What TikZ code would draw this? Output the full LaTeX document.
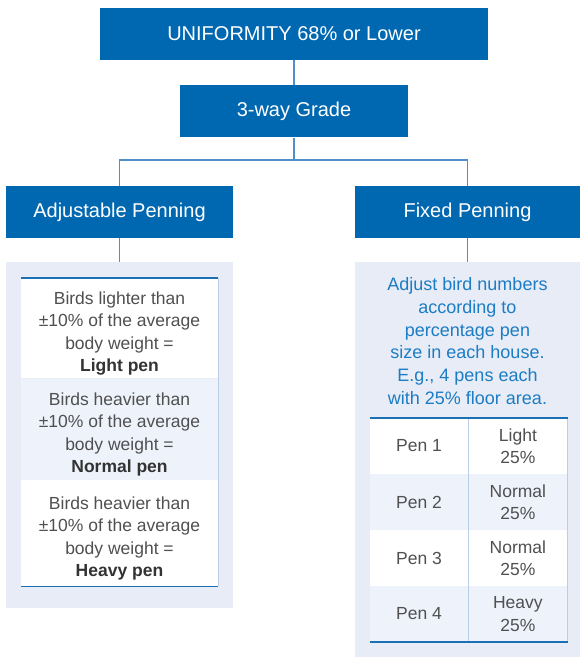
\documentclass[tikz,border=0pt]{standalone}
\usepackage{fontspec}
\setmainfont{Liberation Sans}
\usetikzlibrary{positioning}

\definecolor{boxblue}{HTML}{0067B1}
\definecolor{connblue}{HTML}{4F8FCB}
\definecolor{panelbg}{HTML}{E7ECF6}
\definecolor{rowalt}{HTML}{EEF2FA}
\definecolor{textgray}{HTML}{505050}
\definecolor{textdark}{HTML}{333333}
\definecolor{noteblue}{HTML}{1C7CC4}
\definecolor{ruleblue}{HTML}{1A6FB5}
\definecolor{thinblue}{HTML}{BCCDE7}

\newcommand{\toppad}{\rule{0pt}{23pt}}

\begin{document}
\begin{tikzpicture}[
  x=1pt, y=-1pt,
  node distance=24pt,
  font=\fontsize{17.5}{22.5}\selectfont,
  head/.style={rectangle, fill=boxblue, text=white, font=\fontsize{20}{24}\selectfont, minimum height=52pt, inner sep=0pt},
  conn/.style={draw=connblue, line width=1.6pt},
  panel/.style={rectangle, fill=panelbg, inner sep=0pt},
  cell/.style={rectangle, text=textgray, align=center, inner sep=0pt},
  rowcell/.style={cell, minimum width=197pt},
  note/.style={text=noteblue, align=center, inner sep=0pt, font=\fontsize{18}{22.7}\selectfont},
  tabtop/.style={draw=ruleblue, line width=2.4pt},
  tabbot/.style={draw=ruleblue, line width=1.6pt},
  tabside/.style={draw=thinblue, line width=1pt}
]
\useasboundingbox (0,0) rectangle (580,657);
% -------------------------------------------------------------------------
% HEADER BOXES
% -------------------------------------------------------------------------
\node[head, minimum width=388pt] (uniformity) at (294,34) {UNIFORMITY 68\% or Lower};
\node[head, minimum width=228pt, below=of uniformity, yshift=-1pt] (grade) {3-way Grade};
\node[head, minimum width=227pt] (adj_pen) at (119.5,212) {Adjustable Penning};
\node[head, minimum width=225pt] (fixed_pen) at (467.5,212) {Fixed Penning};
\coordinate (split) at (294,160);
\draw[conn] (uniformity) -- (grade);
\draw[conn] (grade) -- (split);
\draw[conn] (split) -| (adj_pen);
\draw[conn] (split) -| (fixed_pen);
% -------------------------------------------------------------------------
% ADJUSTABLE PENNING
% -------------------------------------------------------------------------
\node[panel, minimum width=227pt, minimum height=346pt, below=of adj_pen] (adj_panel) {};
\draw[conn] (adj_pen) -- (adj_panel);
\node[rowcell, fill=white, minimum height=100pt, below=16pt of adj_panel.north] (adj_light) {\toppad Birds lighter than\\±10\% of the average\\body weight =\\\textbf{\color{textdark}Light pen}};
\node[rowcell, fill=rowalt, minimum height=101pt, below=0pt of adj_light] (adj_normal) {\toppad Birds heavier than\\±10\% of the average\\body weight =\\\textbf{\color{textdark}Normal pen}};
\node[rowcell, fill=white, minimum height=106pt, below=0pt of adj_normal] (adj_heavy) {\toppad Birds heavier than\\±10\% of the average\\body weight =\\\textbf{\color{textdark}Heavy pen}};
\draw[tabside] (adj_light.north east) -- (adj_heavy.south east);
\draw[tabtop] (adj_light.north west) -- (adj_light.north east);
\draw[tabbot] (adj_heavy.south west) -- (adj_heavy.south east);
% -------------------------------------------------------------------------
% FIXED PENNING
% -------------------------------------------------------------------------
\node[panel, minimum width=225pt, minimum height=395pt, below=of fixed_pen] (fixed_panel) {};
\draw[conn] (fixed_pen) -- (fixed_panel);
\node[note] (fixed_note) at (467.5,341) {Adjust bird numbers\\according to\\percentage pen\\size in each house.\\E.g., 4 pens each\\with 25\% floor area.};
\foreach \i/\kind/\rowfill in {1/Light/white, 2/Normal/rowalt, 3/Normal/white, 4/Heavy/rowalt} {
  \node[cell, fill=\rowfill, minimum width=98pt, minimum height=56pt] (pen_\i) at (419, 390+56*\i) {Pen \i};
  \node[cell, fill=\rowfill, minimum width=99pt, minimum height=56pt, right=0pt of pen_\i] (share_\i) {\kind\\25\%};
}
\draw[tabside] (share_1.north west) -- (share_4.south west);
\draw[tabside] (share_1.north east) -- (share_4.south east);
\draw[tabtop] (pen_1.north west) -- (share_1.north east);
\draw[tabbot] (pen_4.south west) -- (share_4.south east);
\end{tikzpicture}
\end{document}
